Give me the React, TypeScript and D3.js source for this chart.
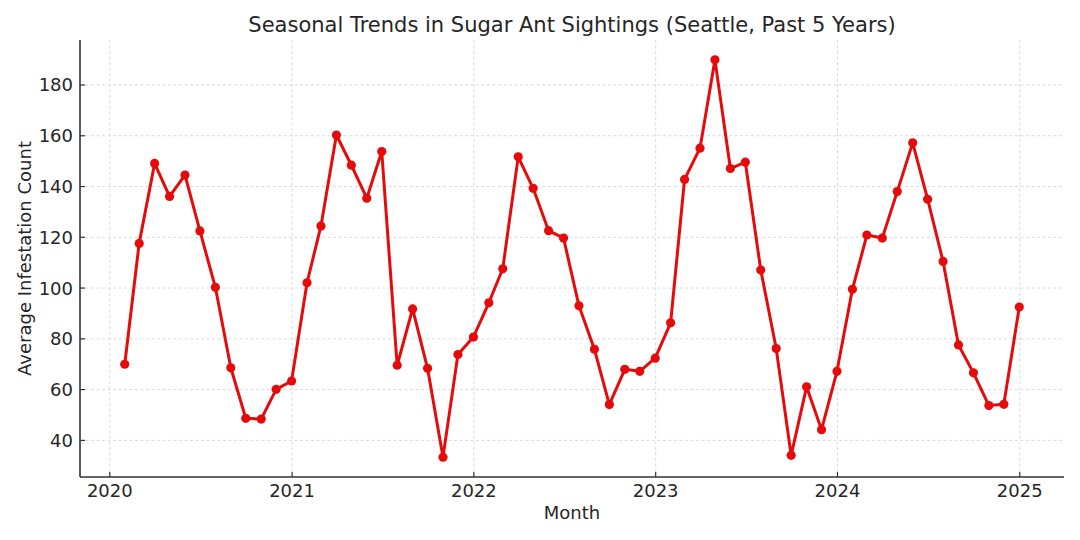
import React from 'react';
import * as d3 from 'd3';

// monthly averages, Jan 2020 .. Dec 2024 (month-end dates)
const years = [2020, 2021, 2022, 2023, 2024];
const counts2020 = [70, 117.6, 149.1, 136.1, 144.5, 122.5, 100.3, 68.6, 48.7, 48.4, 60.1, 63.4];
const counts2021 = [102.1, 124.5, 160.3, 148.4, 135.4, 153.8, 69.6, 91.8, 68.4, 33.4, 73.8, 80.7];
const counts2022 = [94.2, 107.6, 151.7, 139.3, 122.6, 119.7, 93, 75.9, 54.1, 68, 67.2, 72.4];
const counts2023 = [86.3, 142.8, 155.1, 189.9, 147.1, 149.6, 107.1, 76.2, 34.1, 61.1, 44.2, 67.2];
const counts2024 = [99.5, 120.9, 119.7, 138, 157.2, 135, 110.5, 77.6, 66.6, 53.7, 54.2, 92.5];
const yTicks = [40, 60, 80, 100, 120, 140, 160, 180];
const xTickYears = [2020, 2021, 2022, 2023, 2024, 2025];

const title = 'Seasonal Trends in Sugar Ant Sightings (Seattle, Past 5 Years)';
const xLabel = 'Month';
const yLabel = 'Average Infestation Count';

type Point = { date: Date; value: number };

const byYear = [counts2020, counts2021, counts2022, counts2023, counts2024];
const data: Point[] = byYear.flatMap((vals, i) =>
  vals.map((v, m) => ({ date: new Date(years[i], m + 1, 0), value: v }))
);

const width = 1080;
const height = 540;
const margin = { top: 40, right: 16, bottom: 63, left: 80 };
const font = '"DejaVu Sans", sans-serif';
const textColor = '#262626';
const red = '#e60b0b';

const App = () => {
  const [x0, x1] = d3.extent(data, d => d.date) as [Date, Date];
  const span = +x1 - +x0;
  const xScale = d3.scaleTime()
    .domain([new Date(+x0 - span * 0.05), new Date(+x1 + span * 0.05)])
    .range([margin.left, width - margin.right]);

  const [y0, y1] = d3.extent(data, d => d.value) as [number, number];
  const ySpan = y1 - y0;
  const yScale = d3.scaleLinear()
    .domain([y0 - ySpan * 0.05, y1 + ySpan * 0.05])
    .range([height - margin.bottom, margin.top]);

  const line = d3.line<Point>()
    .x(d => xScale(d.date))
    .y(d => yScale(d.value));

  const left = margin.left;
  const right = width - margin.right;
  const top = margin.top;
  const bottom = height - margin.bottom;

  return (
    <svg width={width} height={height} style={{ position: 'absolute', left: 0, top: 0 }}>
      <rect width={width} height={height} fill="#ffffff" />
      <g>
        {yTicks.map(t => (
          <line key={`gy${t}`} x1={left} x2={right} y1={yScale(t)} y2={yScale(t)}
            stroke="#d0d0d0" strokeWidth={0.8} strokeDasharray="3,2.5" />
        ))}
        {xTickYears.map(yr => {
          const x = xScale(new Date(yr, 0, 1));
          return (
            <line key={`gx${yr}`} x1={x} x2={x} y1={top} y2={bottom}
              stroke="#d0d0d0" strokeWidth={0.8} strokeDasharray="3,2.5" />
          );
        })}
      </g>
      <path d={line(data) ?? ''} fill="none" stroke={red} strokeWidth={3} strokeLinejoin="round" />
      {data.map((d, i) => (
        <circle key={i} cx={xScale(d.date)} cy={yScale(d.value)} r={4.6} fill={red} />
      ))}
      <line x1={left} x2={left} y1={top} y2={bottom} stroke="#333333" strokeWidth={1.6} />
      <line x1={left} x2={right} y1={bottom} y2={bottom} stroke="#333333" strokeWidth={1.6} />
      {yTicks.map(t => (
        <g key={`ty${t}`}>
          <line x1={left} x2={left + 5} y1={yScale(t)} y2={yScale(t)} stroke="#333333" strokeWidth={1.2} />
          <text x={left - 7} y={yScale(t)} dy="0.36em" textAnchor="end"
            fontFamily={font} fontSize={18} fill={textColor}>{t}</text>
        </g>
      ))}
      {xTickYears.map(yr => {
        const x = xScale(new Date(yr, 0, 1));
        return (
          <g key={`tx${yr}`}>
            <line x1={x} x2={x} y1={bottom} y2={bottom - 5} stroke="#333333" strokeWidth={1.2} />
            <text x={x} y={bottom + 20} textAnchor="middle"
              fontFamily={font} fontSize={18} fill={textColor}>{yr}</text>
          </g>
        );
      })}
      <text x={(left + right) / 2} y={519} textAnchor="middle"
        fontFamily={font} fontSize={18} fill={textColor}>{xLabel}</text>
      <text transform={`translate(31, ${(top + bottom) / 2}) rotate(-90)`} textAnchor="middle"
        fontFamily={font} fontSize={18} fill={textColor}>{yLabel}</text>
      <text x={(left + right) / 2} y={32} textAnchor="middle"
        fontFamily={font} fontSize={21} fill={textColor}>{title}</text>
    </svg>
  );
};

export default App;
